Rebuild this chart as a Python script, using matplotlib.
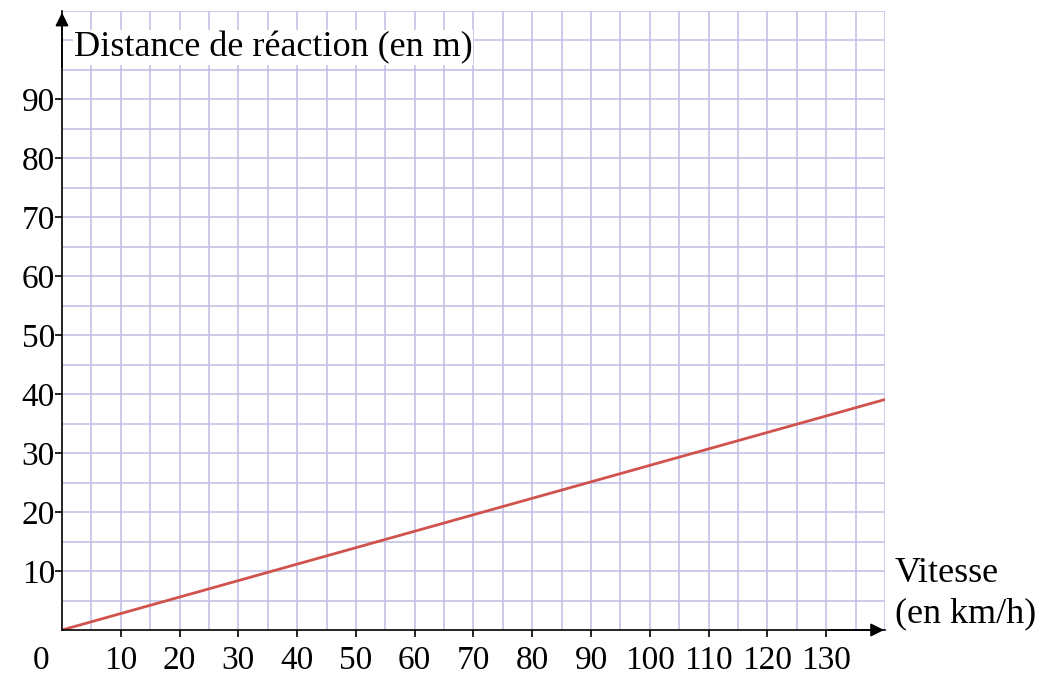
import matplotlib
matplotlib.use("Agg")
import matplotlib.pyplot as plt
import numpy as np

# Data
speed = [0, 140]            # km/h
distance = [0, 39.1]        # m
x_ticks = [10, 20, 30, 40, 50, 60, 70, 80, 90, 100, 110, 120, 130]
y_ticks = [10, 20, 30, 40, 50, 60, 70, 80, 90]
y_label = "Distance de réaction (en m)"
x_label = "Vitesse\n(en km/h)"

plt.rcParams['font.family'] = ['Liberation Serif', 'DejaVu Serif']

fig = plt.figure(figsize=(10.5, 6.76), dpi=100)
ax = fig.add_axes([62/1050, 1-630/676, (885-62)/1050, (630-11)/676])
ax.set_xlim(0, 140)
ax.set_ylim(0, 105)

grid_c = (0.75, 0.75, 0.90)
for v in np.arange(5, 141, 5):
    ax.axvline(v, color=grid_c, lw=1.1, zorder=1)
for v in np.arange(5, 106, 5):
    ax.axhline(v, color=grid_c, lw=1.1, zorder=1)

ax.plot(speed, distance, color=(0.82, 0.32, 0.30), lw=2.0, zorder=3)

for s in ['top', 'right']:
    ax.spines[s].set_visible(False)
for s in ['left', 'bottom']:
    ax.spines[s].set_color('black')
    ax.spines[s].set_linewidth(1.2)
    ax.spines[s].set_zorder(4)

ax.set_xticks(x_ticks)
ax.set_yticks(y_ticks)
ax.set_xticklabels([str(t) for t in x_ticks])
ax.set_yticklabels([str(t) for t in y_ticks])
ax.tick_params(axis='both', direction='out', length=5, width=1.2, labelsize=24, pad=0)
ax.tick_params(axis='x', pad=6)

# origin label
ax.text(-3.6, -5.3, "0", fontsize=24, ha='center', va='center', clip_on=False)

# arrows
ax.annotate("", xy=(140.3, 0), xytext=(130, 0),
            arrowprops=dict(arrowstyle='-|>', color='black', lw=1.2, mutation_scale=20),
            annotation_clip=False, zorder=5)
ax.annotate("", xy=(0, 105.2), xytext=(0, 95),
            arrowprops=dict(arrowstyle='-|>', color='black', lw=1.2, mutation_scale=20),
            annotation_clip=False, zorder=5)

ax.text(2.0, 98.8, y_label, fontsize=26, ha='left', va='center', zorder=6,
        bbox=dict(facecolor='white', edgecolor='none', pad=0.5))
fig.text(895/1050, 1-594/676, x_label, fontsize=26, ha='left', va='center', linespacing=1.3)

fig.savefig("out.png", dpi=100, facecolor='white')
